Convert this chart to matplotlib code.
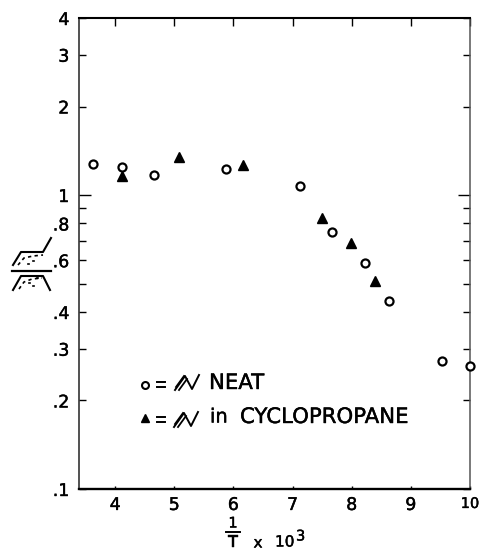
import matplotlib
matplotlib.use("Agg")
import matplotlib.pyplot as plt
import matplotlib.patheffects as pe
from matplotlib.lines import Line2D

W, H = 479, 550

neat_x = [3.63, 4.12, 4.65, 5.87, 7.13, 7.67, 8.22, 8.63, 9.52, 10.0]
neat_y = [1.27, 1.245, 1.17, 1.226, 1.07, 0.75, 0.587, 0.437, 0.272, 0.262]
cyclo_x = [4.12, 5.08, 6.16, 7.49, 7.98, 8.40]
cyclo_y = [1.16, 1.35, 1.265, 0.835, 0.687, 0.51]

x_ticks = [4, 5, 6, 7, 8, 9, 10]
y_ticks = [0.1, 0.2, 0.3, 0.4, 0.6, 0.8, 1, 2, 3, 4]
y_labels = [".1", ".2", ".3", ".4", ".6", ".8", "1", "2", "3", "4"]
y_minor = [0.5, 0.7, 0.9]

plt.rcParams["font.family"] = ["DejaVu Sans"]
heavy = [pe.withStroke(linewidth=0.3, foreground="black")]

fig = plt.figure(figsize=(W / 100, H / 100), dpi=100)
ax = fig.add_axes([79 / W, 1 - 489 / H, (470 - 79) / W, (489 - 18) / H])
ax.set_yscale("log")
ax.set_xlim(3.39, 10)
ax.set_ylim(0.1, 4)

ax.plot(neat_x, neat_y, "o", ms=5.8, mfc="white", mec="black", mew=1.6, ls="none", clip_on=False, zorder=5)
ax.plot(cyclo_x, cyclo_y, "^", ms=7, color="black", ls="none", clip_on=False, zorder=5)

ax.set_xticks(x_ticks)
ax.set_xticklabels([str(t) for t in x_ticks], fontsize=12.5)
ax.set_yticks(y_ticks)
ax.set_yticklabels(y_labels, fontsize=12.5)
ax.set_yticks(y_minor, minor=True)
ax.set_yticklabels([], minor=True)
ax.tick_params(axis="x", which="major", direction="in", top=True, length=6, width=1, pad=5)
ax.tick_params(axis="y", which="major", direction="in", right=True, length=5, width=1, pad=7)
ax.tick_params(axis="y", which="minor", direction="in", right=True, length=5, width=1)
for tick in ax.xaxis.get_major_ticks():
    tick.tick1line.set_markersize(2.5)
one = ax.yaxis.get_major_ticks()[y_ticks.index(1)]
one.tick1line.set_markersize(8.5)
one.tick2line.set_markersize(8.5)
ax.get_xticklabels()[-1].set_fontsize(10.5)
for lab in ax.get_xticklabels() + ax.get_yticklabels():
    lab.set_path_effects(heavy)
for s, lw, col in (("top", 1.5, "black"), ("bottom", 1.7, "black"), ("left", 1.1, "#222222"), ("right", 1.1, "#555555")):
    ax.spines[s].set_linewidth(lw)
    ax.spines[s].set_color(col)


def px_line(xs, ys, lw=1.4, ls="-"):
    # annotation strokes placed in picture pixels
    fig.add_artist(Line2D([x / W for x in xs], [1 - y / H for y in ys], color="black", lw=lw, ls=ls))


def px_text(x, y, s, size, **kw):
    fig.text(x / W, 1 - y / H, s, fontsize=size, ha=kw.pop("ha", "left"), va="center",
             path_effects=heavy, **kw)


# y axis label: little reaction profile sketches over a fraction bar
px_line([12, 51], [271, 271], lw=1.6)
px_line([13, 21, 43, 51], [265, 252, 252, 238], lw=1.5)
px_line([18, 24, 33, 43], [265, 258, 256, 255], lw=1.2, ls=(0, (2, 2)))
px_line([13, 21, 43, 50], [290, 276, 276, 290], lw=1.5)
px_line([19, 24, 32, 42], [289, 282, 279, 278], lw=1.2, ls=(0, (2, 2)))
sketch_dots = [(33, 261), (28, 264), (29, 283), (33, 286), (37, 278)]
for dx, dy in sketch_dots:
    px_line([dx, dx + 1], [dy, dy], lw=1.2)

# x axis label
px_text(233, 523, "1", 10.5, ha="center")
px_line([226, 240], [532, 532], lw=1.4)
px_text(233, 542, "T", 11, ha="center")
px_text(258, 543, "x", 11, ha="center")
px_text(275, 542, "10", 11)
px_text(296, 536, "3", 10.5)


# legend
def squiggle(x0, y0):
    px_line([x0, x0 + 10, x0 + 17, x0 + 24], [y0 + 15, y0 + 1, y0 + 14, y0], lw=1.4)
    px_line([x0 + 4, x0 + 12], [y0 + 15, y0 + 4], lw=1.3)
    px_line([x0 + 1, x0 + 9], [y0 + 12, y0 + 1], lw=1.3)


fig.add_artist(Line2D([145 / W], [1 - 385 / H], marker="o", ms=5, mfc="white", mec="black", mew=1.5))
px_line([157, 165], [382, 382], lw=1.4)
px_line([157, 165], [387, 387], lw=1.4)
squiggle(175, 375)
px_text(209, 383, "NEAT", 15.3)
fig.add_artist(Line2D([145 / W], [1 - 418 / H], marker="^", ms=6, color="black"))
px_line([157, 165], [417, 417], lw=1.4)
px_line([157, 165], [422, 422], lw=1.4)
squiggle(174, 412)
px_text(210, 417, "in", 14)
px_text(240, 417, "CYCLOPROPANE", 15.3)

fig.savefig("out.png", dpi=100)
